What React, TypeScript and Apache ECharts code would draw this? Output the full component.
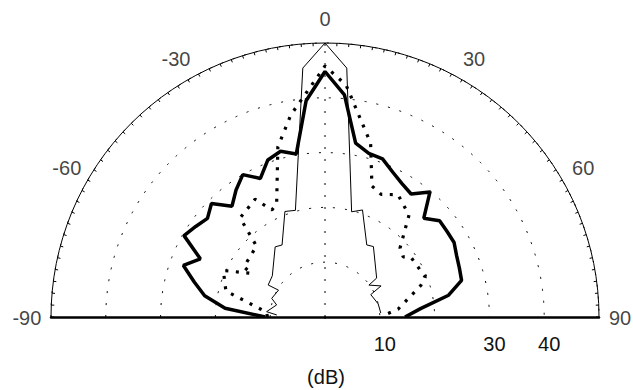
import React, { useEffect, useRef } from "react";
import * as echarts from "echarts";

// ---- tick labels ----
const angleTickLabels = [-90, -60, -30, 0, 30, 60, 90];
const radialTickLabels = [10, 30, 40];
const radialUnit = "(dB)";

// ---- series: thick solid line (5° steps) ----
const thickAngles = [
  -90, -85, -80, -75, -70, -65, -60, -55, -50, -45, -40, -35, -30, -25, -20, -15, -10, -5,
  0, 5, 10, 15, 20, 25, 30, 35, 40, 45, 50, 55, 60, 65, 70, 75, 80, 85, 90,
];
const thickValues = [
  10.9, 18.3, 22.3, 24.7, 27.5, 25.1, 29.7, 28.8, 28.0, 29.3, 26.4, 28.3, 30.0, 27.9, 30.5, 31.3, 30.2, 39.6,
  44.8, 40.7, 32.2, 30.9, 30.7, 29.2, 28.1, 27.4, 29.8, 25.5, 27.3, 27.2, 27.2, 26.5, 26.1, 25.8, 22.9, 17.5, 14.6,
];

// ---- series: thin solid line (narrow beam) ----
const thinAngles = [
  -87.6, -84.8, -76.0, -70.7, -60.0, -60.6, -52.0, -35.4, -30.8, -20.8, -15.5, -5.1, 0,
  5.0, 14.2, 19.3, 30.1, 34.5, 53.0, 54.0, 61.0, 63.9, 76.2, 85.9,
];
const thinValues = [
  8.8, 10.7, 9.1, 10.3, 9.8, 11.9, 12.2, 15.7, 15.3, 20.6, 20.2, 45.6, 50.0,
  45.6, 19.8, 20.7, 15.2, 15.6, 11.8, 9.9, 11.7, 9.3, 10.0, 10.2,
];

// ---- series: thick dotted line ----
const dottedAngles = [
  -90, -85.3, -75.3, -65.4, -59.3, -58.3, -44.0, -40.6, -30.7, -26.4, -23.2, -15.5, -9.6, 0,
  5.2, 14.7, 19.7, 24.6, 30.8, 39.5, 47.4, 52.4, 55.1, 68.3, 71.8, 83.9, 86.8, 90,
];
const dottedValues = [
  10.5, 10.7, 18.7, 20.4, 15.6, 17.4, 18.0, 23.8, 25.0, 21.8, 22.4, 32.2, 37.4, 45.8,
  42.5, 32.8, 25.4, 24.6, 26.0, 24.1, 18.6, 18.0, 19.1, 19.7, 18.4, 13.4, 11.5, 10.8,
];

// ---- layout constants ----
const FONT = '"Liberation Sans", Arial, Helvetica, sans-serif';
const TEXT = "#111";
const FONT_SIZE = 20;
const CENTER = [325, 317];
const RADIUS = 274;
const R_MIN = 0;
const R_MAX = 50;
const LABEL_R = 54.4;
const SPOKE_ANGLE = 0;

const pairs = (angles: number[], values: number[]) => values.map((v, i) => [v, angles[i]]);

export default function App() {
  const ref = useRef<HTMLDivElement>(null);
  useEffect(() => {
    if (!ref.current) return;
    const chart = echarts.init(ref.current, undefined, { renderer: "svg" });
    const option: any = {
      animation: false,
      textStyle: { fontFamily: FONT },
      polar: [
        { center: CENTER, radius: RADIUS },
        { center: CENTER, radius: RADIUS },
      ],
      angleAxis: [
        {
          polarIndex: 0,
          type: "value",
          min: -90,
          max: 90,
          interval: 30,
          startAngle: 180,
          endAngle: 0,
          clockwise: true,
          axisLine: { show: true, lineStyle: { color: "#000", width: 1 } },
          axisTick: { show: true, inside: true, length: 3, lineStyle: { color: "#000", width: 1 } },
          minorTick: { show: true, splitNumber: 12, length: 3, lineStyle: { color: "#000", width: 1 } },
          axisLabel: { show: false },
          splitLine: { show: false },
          splitArea: { show: false },
        },
        {
          polarIndex: 1,
          type: "value",
          min: -90,
          max: 90,
          startAngle: 0,
          endAngle: 180,
          show: false,
        },
      ],
      radiusAxis: [
        {
          polarIndex: 0,
          type: "value",
          min: R_MIN,
          max: R_MAX,
          interval: 10,
          axisLine: { show: true, lineStyle: { color: "#000", width: 2.5 } },
          axisTick: { show: false },
          axisLabel: { show: false },
          splitLine: { show: true, lineStyle: { color: "#000", width: 1, type: [2, 10] } },
        },
        {
          polarIndex: 1,
          type: "value",
          min: R_MIN,
          max: R_MAX,
          interval: 10,
          axisLine: { show: true, lineStyle: { color: "#000", width: 2.5 } },
          axisTick: { show: false },
          axisLabel: {
            show: true,
            margin: -17,
            verticalAlign: "top",
            fontSize: FONT_SIZE,
            fontFamily: FONT,
            color: TEXT,
            padding: [0, 0, 0, 10],
            formatter: (v: number) => (radialTickLabels.includes(v) ? String(v) : ""),
          },
          splitLine: { show: false },
        },
      ],
      graphic: [
        {
          type: "text",
          x: 326,
          y: 377,
          style: {
            text: radialUnit,
            font: `${FONT_SIZE}px ${FONT}`,
            fill: TEXT,
            align: "center",
            verticalAlign: "middle",
          },
        },
      ],
      series: [
        {
          type: "line",
          coordinateSystem: "polar",
          polarIndex: 0,
          data: [
            [R_MIN, SPOKE_ANGLE],
            [R_MAX, SPOKE_ANGLE],
          ],
          symbol: "none",
          silent: true,
          lineStyle: { color: "#000", width: 1, type: [2, 10] },
          z: 1,
        },
        {
          type: "scatter",
          coordinateSystem: "polar",
          polarIndex: 0,
          data: angleTickLabels.map((a) => ({
            value: [LABEL_R, a],
            label: Math.abs(a) === 90 ? { offset: [a > 0 ? -3 : 0, 1] } : {},
          })),
          symbolSize: 0,
          clip: false,
          silent: true,
          label: {
            show: true,
            position: "inside",
            formatter: (p: any) => String(p.value[1]),
            fontSize: FONT_SIZE,
            fontFamily: FONT,
            color: TEXT,
          },
        },
        {
          name: "narrow",
          type: "line",
          coordinateSystem: "polar",
          polarIndex: 0,
          data: pairs(thinAngles, thinValues),
          symbol: "none",
          lineStyle: { color: "#000", width: 1 },
          z: 3,
        },
        {
          name: "dotted",
          type: "line",
          coordinateSystem: "polar",
          polarIndex: 0,
          data: pairs(dottedAngles, dottedValues),
          symbol: "none",
          lineStyle: { color: "#000", width: 3.2, type: [3, 7.5], cap: "butt" },
          z: 4,
        },
        {
          name: "thick",
          type: "line",
          coordinateSystem: "polar",
          polarIndex: 0,
          data: pairs(thickAngles, thickValues),
          symbol: "none",
          lineStyle: { color: "#000", width: 3.5 },
          z: 5,
        },
      ],
    };
    chart.setOption(option);
    return () => chart.dispose();
  }, []);
  return (
    <div
      ref={ref}
      style={{ position: "absolute", left: 0, top: 0, width: 633, height: 390, background: "#fff" }}
    />
  );
}
